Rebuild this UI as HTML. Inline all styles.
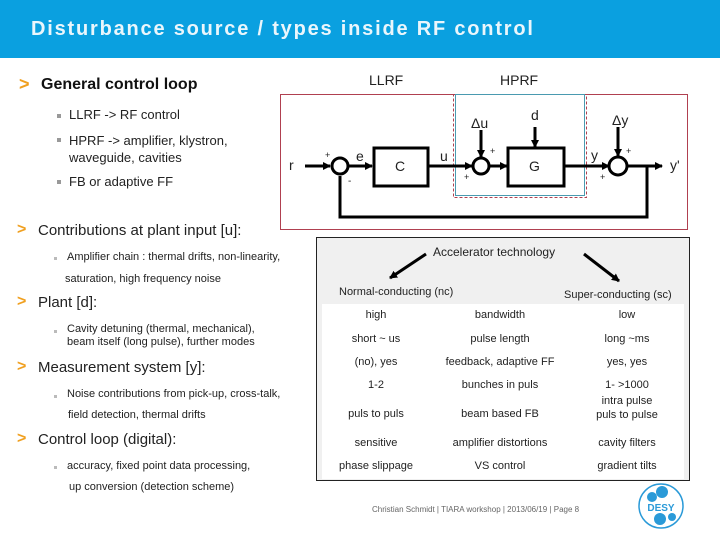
<!DOCTYPE html>
<html><head><meta charset="utf-8"><style>
body{margin:0;width:720px;height:540px;background:#fff;position:relative;overflow:hidden;font-family:"Liberation Sans",sans-serif}
.t{position:absolute;white-space:nowrap;color:#222}
.hdr{position:absolute;left:0;top:0;width:720px;height:58px;background:#0aa0e0}
.ar{color:#f0a020;font-weight:bold}
.sq{position:absolute;width:4px;height:4px;background:#999}
</style></head><body>
<div class="hdr"></div>
<div class="t" style="left:31px;top:18px;font-size:20px;font-weight:bold;letter-spacing:1.8px;color:#eaf6fc">Disturbance source / types inside RF control</div>

<div class="t ar" style="left:19px;top:74px;font-size:18px">&gt;</div>
<div class="t" style="left:41px;top:76px;font-size:16px;font-weight:bold;color:#111">General control loop</div>
<div class="sq" style="left:57px;top:114px"></div>
<div class="t" style="left:69px;top:107px;font-size:13px">LLRF -&gt; RF control</div>
<div class="sq" style="left:57px;top:138px"></div>
<div class="t" style="left:69px;top:132px;font-size:13px;line-height:17px">HPRF -&gt; amplifier, klystron,<br>waveguide, cavities</div>
<div class="sq" style="left:57px;top:180px"></div>
<div class="t" style="left:69px;top:174px;font-size:13px">FB or adaptive FF</div>

<div class="t ar" style="left:17px;top:221px;font-size:16px">&gt;</div>
<div class="t" style="left:38px;top:222px;font-size:15px">Contributions at plant input [u]:</div>
<div class="sq" style="left:54px;top:257px;background:#bbb;width:3px;height:3px"></div>
<div class="t" style="left:67px;top:251px;font-size:11px">Amplifier chain : thermal drifts, non-linearity,</div>
<div class="t" style="left:65px;top:273px;font-size:11px">saturation, high frequency noise</div>
<div class="t ar" style="left:17px;top:293px;font-size:16px">&gt;</div>
<div class="t" style="left:38px;top:294px;font-size:15px">Plant [d]:</div>
<div class="sq" style="left:54px;top:330px;background:#bbb;width:3px;height:3px"></div>
<div class="t" style="left:67px;top:323px;font-size:11px;line-height:13px">Cavity detuning (thermal, mechanical),<br>beam itself (long pulse), further modes</div>
<div class="t ar" style="left:17px;top:358px;font-size:16px">&gt;</div>
<div class="t" style="left:38px;top:359px;font-size:15px">Measurement system [y]:</div>
<div class="sq" style="left:54px;top:395px;background:#bbb;width:3px;height:3px"></div>
<div class="t" style="left:67px;top:388px;font-size:11px">Noise contributions from pick-up, cross-talk,</div>
<div class="t" style="left:68px;top:409px;font-size:11px">field detection, thermal drifts</div>
<div class="t ar" style="left:17px;top:430px;font-size:16px">&gt;</div>
<div class="t" style="left:38px;top:431px;font-size:15px">Control loop (digital):</div>
<div class="sq" style="left:54px;top:466px;background:#bbb;width:3px;height:3px"></div>
<div class="t" style="left:67px;top:460px;font-size:11px">accuracy, fixed point data processing,</div>
<div class="t" style="left:69px;top:481px;font-size:11px">up conversion (detection scheme)</div>

<svg style="position:absolute;left:0;top:0" width="720" height="540">
<defs><marker id="a" markerWidth="8" markerHeight="8" refX="7" refY="4" orient="auto" markerUnits="userSpaceOnUse"><path d="M0,0L8,4L0,8z" fill="#000"/></marker></defs>
<rect x="280.5" y="94.5" width="407" height="135" fill="none" stroke="#b04050"/>
<rect x="453.5" y="94.5" width="133" height="103" fill="#fff" stroke="#b04050" stroke-dasharray="3,2"/>
<rect x="455.5" y="94.5" width="129" height="101" fill="none" stroke="#4a9ab0"/>
<g stroke="#000" stroke-width="3" fill="none">
<line x1="305" y1="166" x2="330" y2="166" marker-end="url(#a)"/>
<circle cx="340" cy="166" r="8"/>
<line x1="348" y1="166" x2="372" y2="166" marker-end="url(#a)"/>
<rect x="374" y="148" width="54" height="38"/>
<line x1="428" y1="166" x2="472" y2="166" marker-end="url(#a)"/>
<circle cx="481" cy="166" r="8"/>
<line x1="481" y1="130" x2="481" y2="157" marker-end="url(#a)"/>
<line x1="489" y1="166" x2="507" y2="166" marker-end="url(#a)"/>
<rect x="508" y="148" width="56" height="38"/>
<line x1="535" y1="127" x2="535" y2="147" marker-end="url(#a)"/>
<line x1="564" y1="166" x2="609" y2="166" marker-end="url(#a)"/>
<circle cx="618" cy="166" r="9"/>
<line x1="618" y1="127" x2="618" y2="156" marker-end="url(#a)"/>
<line x1="627" y1="166" x2="662" y2="166" marker-end="url(#a)"/>
<polyline points="647,166 647,217 340,217 340,176"/>
</g>
<rect x="316.5" y="237.5" width="373" height="243" fill="#f0f0f0" stroke="#222"/>
<rect x="322" y="304" width="362" height="175" fill="#fff"/>
<g stroke="#000" stroke-width="3"><line x1="426" y1="254" x2="390" y2="278" marker-end="url(#a)"/><line x1="584" y1="254" x2="619" y2="281" marker-end="url(#a)"/></g>
<circle cx="661" cy="506" r="22" fill="none" stroke="#2a9ad8" stroke-width="1.5"/>
<circle cx="652" cy="497" r="5" fill="#2a9ad8"/><circle cx="662" cy="492" r="6" fill="#2a9ad8"/><circle cx="660" cy="519" r="6" fill="#2a9ad8"/><circle cx="672" cy="517" r="4" fill="#2a9ad8"/>
<text x="661" y="511" font-family="Liberation Sans" font-weight="bold" font-size="10" fill="#2a9ad8" text-anchor="middle">DESY</text>
</svg>

<div class="t" style="left:369px;top:72px;font-size:14px">LLRF</div>
<div class="t" style="left:500px;top:72px;font-size:14px">HPRF</div>
<div class="t" style="left:289px;top:157px;font-size:14px">r</div>
<div class="t" style="left:325px;top:150px;font-size:9px">+</div>
<div class="t" style="left:348px;top:176px;font-size:10px">-</div>
<div class="t" style="left:356px;top:148px;font-size:14px">e</div>
<div class="t" style="left:395px;top:158px;font-size:14px">C</div>
<div class="t" style="left:440px;top:148px;font-size:14px">u</div>
<div class="t" style="left:471px;top:115px;font-size:14px">Δu</div>
<div class="t" style="left:490px;top:146px;font-size:9px">+</div>
<div class="t" style="left:464px;top:172px;font-size:9px">+</div>
<div class="t" style="left:531px;top:107px;font-size:14px">d</div>
<div class="t" style="left:529px;top:158px;font-size:14px">G</div>
<div class="t" style="left:591px;top:147px;font-size:14px">y</div>
<div class="t" style="left:612px;top:112px;font-size:14px">Δy</div>
<div class="t" style="left:626px;top:146px;font-size:9px">+</div>
<div class="t" style="left:600px;top:172px;font-size:9px">+</div>
<div class="t" style="left:670px;top:157px;font-size:14px">y'</div>

<div class="t" style="left:433px;top:245px;font-size:12px">Accelerator technology</div>
<div class="t" style="left:339px;top:286px;font-size:11px">Normal-conducting (nc)</div>
<div class="t" style="left:564px;top:289px;font-size:11px">Super-conducting (sc)</div>
<div style="position:absolute;left:322px;top:309px;width:362px;font-size:11px;color:#222">
<div style="position:absolute;left:0;width:108px;text-align:center;top:0">high</div>
<div style="position:absolute;left:108px;width:140px;text-align:center;top:0">bandwidth</div>
<div style="position:absolute;left:248px;width:114px;text-align:center;top:0">low</div>
<div style="position:absolute;left:0;width:108px;text-align:center;top:24px">short ~ us</div>
<div style="position:absolute;left:108px;width:140px;text-align:center;top:24px">pulse length</div>
<div style="position:absolute;left:248px;width:114px;text-align:center;top:24px">long ~ms</div>
<div style="position:absolute;left:0;width:108px;text-align:center;top:47px">(no), yes</div>
<div style="position:absolute;left:108px;width:140px;text-align:center;top:47px">feedback, adaptive FF</div>
<div style="position:absolute;left:248px;width:114px;text-align:center;top:47px">yes, yes</div>
<div style="position:absolute;left:0;width:108px;text-align:center;top:70px">1-2</div>
<div style="position:absolute;left:108px;width:140px;text-align:center;top:70px">bunches in puls</div>
<div style="position:absolute;left:248px;width:114px;text-align:center;top:70px">1- &gt;1000</div>
<div style="position:absolute;left:0;width:108px;text-align:center;top:99px">puls to puls</div>
<div style="position:absolute;left:108px;width:140px;text-align:center;top:99px">beam based FB</div>
<div style="position:absolute;left:248px;width:114px;text-align:center;top:85px;line-height:14px">intra pulse<br>puls to pulse</div>
<div style="position:absolute;left:0;width:108px;text-align:center;top:128px">sensitive</div>
<div style="position:absolute;left:108px;width:140px;text-align:center;top:128px">amplifier distortions</div>
<div style="position:absolute;left:248px;width:114px;text-align:center;top:128px">cavity filters</div>
<div style="position:absolute;left:0;width:108px;text-align:center;top:151px">phase slippage</div>
<div style="position:absolute;left:108px;width:140px;text-align:center;top:151px">VS control</div>
<div style="position:absolute;left:248px;width:114px;text-align:center;top:151px">gradient tilts</div>
</div>
<div class="t" style="left:372px;top:505px;font-size:8px;color:#666">Christian Schmidt | TIARA workshop | 2013/06/19 | Page 8</div>
</body></html>
